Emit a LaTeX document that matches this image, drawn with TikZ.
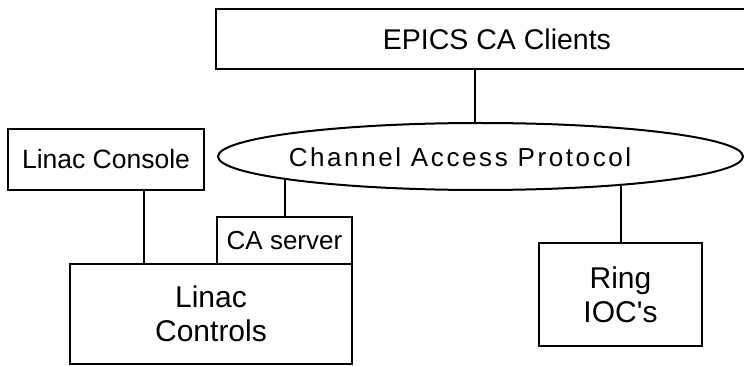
\documentclass[tikz,border=0pt]{standalone}
\usepackage{fontspec}
\setmainfont{Liberation Sans}
\newfontfamily\spacedfont[LetterSpace=10]{Liberation Sans}
\usetikzlibrary{shapes.geometric}
\begin{document}
\begin{tikzpicture}[x=1pt,y=-1pt,
  box/.style={draw, line width=2pt, inner sep=0pt, align=center, anchor=center},
  conn/.style={line width=2pt}]
\useasboundingbox (0,0) rectangle (744,366);
\node[box, minimum width=562pt, minimum height=60pt, font=\fontsize{28.5}{34}\selectfont] (epics) at (497,39) {EPICS CA Clients};
\node[box, minimum width=196pt, minimum height=61pt, font=\fontsize{26.5}{32}\selectfont] (console) at (106,159.5) {Linac Console};
\node[box, ellipse, minimum width=525pt, minimum height=67pt] (cap) at (480.5,156.5) {};
\node[inner sep=0pt, font=\spacedfont\fontsize{26}{30}\selectfont] (captext) at (460,157) {Channel Access Protocol};
\node[box, minimum width=135pt, minimum height=47pt, font=\fontsize{26}{32}\selectfont] (ca) at (284.5,240.5) {CA server};
\node[box, minimum width=282pt, minimum height=100pt, font=\fontsize{30}{34}\selectfont] (ctrl) at (211,314) {Linac\\Controls};
\node[box, minimum width=163pt, minimum height=103pt, font=\fontsize{30}{34}\selectfont] (ring) at (620.5,294.5) {Ring\\IOC\textquotesingle s};
\draw[conn] (epics.south -| cap.99) -- (cap.99);
\draw[conn] (ca.north) -- (ca.north |- cap.186.5);
\draw[conn] (ring.north) -- (ring.north |- cap.348.6);
\draw[conn] ([xshift=38pt]console.south) -- ([xshift=38pt]console.south |- ctrl.north);
\end{tikzpicture}
\end{document}
